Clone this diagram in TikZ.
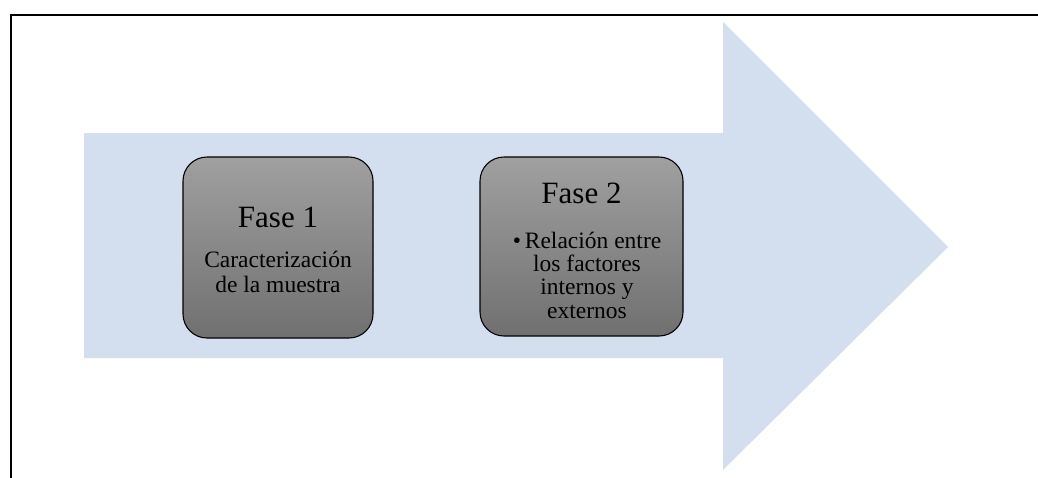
\documentclass[tikz,border=0pt]{standalone}
\usepackage{fontspec}
\setmainfont{Liberation Serif}
\usepackage{tikz}

\definecolor{arrowblue}{RGB}{211,222,238}
\definecolor{boxtop}{RGB}{160,160,160}
\definecolor{boxbottom}{RGB}{112,112,112}

\tikzset{
  fasebox/.style={draw=black, line width=1.1pt, rounded corners=24pt,
    top color=boxtop, bottom color=boxbottom, inner sep=0pt},
  fasetitle/.style={anchor=base, inner sep=0pt, font=\fontsize{31}{33}\selectfont},
  fasetext/.style={anchor=base, inner sep=0pt, align=center,
    font=\fontsize{23.5}{24.5}\selectfont}
}

\begin{document}
\begin{tikzpicture}[x=1pt,y=1pt,yscale=-1,xscale=1]
\useasboundingbox (0,0) rectangle (1038,477);
\clip (0,0) rectangle (1038,477);

%Frame
\draw[line width=2pt] (11,490) -- (11,14.5) -- (1050,14.5);

%Shape: Right Arrow [id:arrow]
\fill[arrowblue] (84,133) -- (723,133) -- (723,22) -- (948,247) -- (723,470)
  -- (723,358) -- (84,358) -- cycle;

%Rounded Rect [id:fase1]
\node[fasebox, minimum width=190pt, minimum height=181pt] (fase1) at (278,247.5) {};
%Rounded Rect [id:fase2]
\node[fasebox, minimum width=203pt, minimum height=179pt] (fase2) at (581.5,246.5) {};

% Text Node (base = last line)
\node[fasetitle] (titulo1) at (278,227) {Fase 1};
% Text Node
\node[fasetext] (texto1) at (278,292) {Caracterización\\de la muestra};
% Text Node
\node[fasetitle] (titulo2) at (581.5,203) {Fase 2};
% Text Node
\node[fasetext, font=\fontsize{23.5}{23.2}\selectfont] (texto2) at (587,318)
  {\textbullet\,Relación entre\\los factores\\internos y\\externos};

\end{tikzpicture}
\end{document}
